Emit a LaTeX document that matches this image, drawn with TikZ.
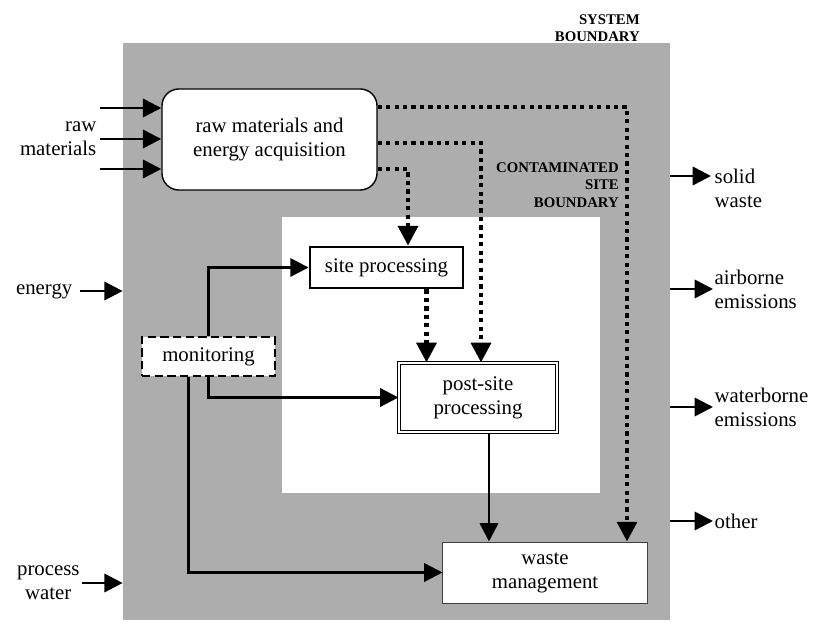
\documentclass[tikz,border=0pt]{standalone}
\usepackage{fontspec}
\setmainfont{Liberation Serif}
\usetikzlibrary{arrows.meta,positioning,backgrounds}
\pgfdeclarelayer{edgelayer}
\pgfdeclarelayer{nodelayer}
\pgfsetlayers{background,edgelayer,nodelayer,main}
\tikzstyle{none}=[inner sep=0mm]
\tikzstyle{sysarea}=[none,fill=black!32,minimum width=13.675cm,minimum height=14.425cm]
\tikzstyle{sitearea}=[none,fill=white,minimum width=7.95cm,minimum height=6.9cm]
\tikzstyle{lbl}=[inner sep=1pt,font=\fontsize{14.8}{17.1}\selectfont,align=center]
\tikzstyle{caps}=[inner sep=0pt,font=\fontsize{10.5}{12.4}\selectfont\bfseries,align=right]
\tikzstyle{box}=[lbl,fill=white,draw=black,inner sep=0pt]
\tikzstyle{rawbox}=[box,line width=1pt,rounded corners=12pt,minimum width=5.375cm,minimum height=2.525cm]
\tikzstyle{sitebox}=[box,line width=2pt,minimum width=3.825cm,minimum height=1.025cm]
\tikzstyle{postbox}=[box,double,line width=0.8pt,double distance=1.4pt,minimum width=3.95cm,minimum height=1.725cm]
\tikzstyle{monbox}=[box,line width=1.8pt,dash pattern=on 6pt off 3pt,minimum width=3.325cm,minimum height=0.975cm]
\tikzstyle{wastebox}=[box,draw=black!75,line width=0.7pt,minimum width=5.1cm,minimum height=1.525cm]
\tikzstyle{flow}=[line width=1.8pt,-{Triangle[width=13pt,length=13pt]}]
\tikzstyle{dotflow}=[line width=3pt,dash pattern=on 3pt off 3pt,-{Triangle[width=14pt,length=14pt]}]

\begin{document}
\begin{tikzpicture}[x=0.025cm,y=-0.025cm]
	\useasboundingbox (0,0) rectangle (815,628);
	\begin{pgfonlayer}{background}
		\node [style=sysarea] (sys) at (396.5, 331.5) {};
		\node [style=sitearea] (csite) at (441, 355) {};
	\end{pgfonlayer}
	\begin{pgfonlayer}{nodelayer}
		\node [style=rawbox] (raw) at (269.5, 139.5) {raw materials and\\energy acquisition};
		\node [style=sitebox] (site) at (386.5, 267.5) {site processing};
		\node [style=postbox] (post) at (478, 397.5) {post-site\\processing};
		\node [style=monbox] (mon) at (208.5, 356.5) {monitoring};
		\node [style=wastebox] (waste) at (545, 572.5) {waste\\management};
		\node [style=caps, anchor=east] (syscap) at (640, 28) {SYSTEM\\BOUNDARY};
		\node [style=caps, anchor=east] (sitecap) at (619, 185) {CONTAMINATED\\SITE\\BOUNDARY};
		% inputs
		\coordinate (in1) at (100, 108);
		\coordinate (in2) at (100, 139);
		\coordinate (in3) at (100, 169);
		\coordinate (enin) at (80, 291);
		\coordinate (wtin) at (82, 583);
		\node [style=lbl, align=right, left=0.05cm of in2] (rawin) {raw\\materials};
		\node [style=lbl, left=0.15cm of enin] (energy) {energy};
		\node [style=lbl, left=0.02cm of wtin] (water) {process\\water};
		% outputs
		\coordinate (o1) at (711, 176);
		\node [style=lbl, align=left, anchor=west] (solid) at (713, 188) {solid\\waste};
		\node [style=lbl, align=left, anchor=west] (air) at (713, 289) {airborne\\emissions};
		\node [style=lbl, align=left, anchor=west] (water2) at (713, 407) {waterborne\\emissions};
		\node [style=lbl, align=left, anchor=west] (other) at (713, 521) {other};
		% dotted paths
		\coordinate (d1) at (627, 107);
		\coordinate (d2) at (481, 143);
		\coordinate (d3) at (408, 169);
	\end{pgfonlayer}
	\begin{pgfonlayer}{edgelayer}
		\draw [style=flow] (in1) to (in1 -| raw.west);
		\draw [style=flow] (in2) to (in2 -| raw.west);
		\draw [style=flow] (in3) to (in3 -| raw.west);
		\draw [style=flow] (enin) to (enin -| sys.west);
		\draw [style=flow] (wtin) to (wtin -| sys.west);
		\draw [style=flow] (o1 -| sys.east) to (o1);
		\draw [style=flow] (air.west -| sys.east) to (air.west);
		\draw [style=flow] (water2.west -| sys.east) to (water2.west);
		\draw [style=flow] (other.west -| sys.east) to (other.west);
		\draw [style=dotflow] (raw.east |- d1) -- (d1) -- (d1 |- waste.north);
		\draw [style=dotflow] (raw.east |- d2) -- (d2) -- (d2 |- post.north);
		\draw [style=dotflow] (raw.east |- d3) -- (d3) -- (d3 |- site.north);
		\draw [style=dotflow] ([xshift=1cm]site.south) -- ([xshift=1cm]site.south |- post.north);
		\draw [style=flow] (mon.north) |- (site.west);
		\draw [style=flow] (mon.south) |- (post.west);
		\draw [style=flow] ([xshift=-0.5cm]mon.south) |- (waste.west);
		\draw [style=flow] ([xshift=0.275cm]post.south) -- ([xshift=0.275cm]post.south |- waste.north);
	\end{pgfonlayer}
\end{tikzpicture}
\end{document}
